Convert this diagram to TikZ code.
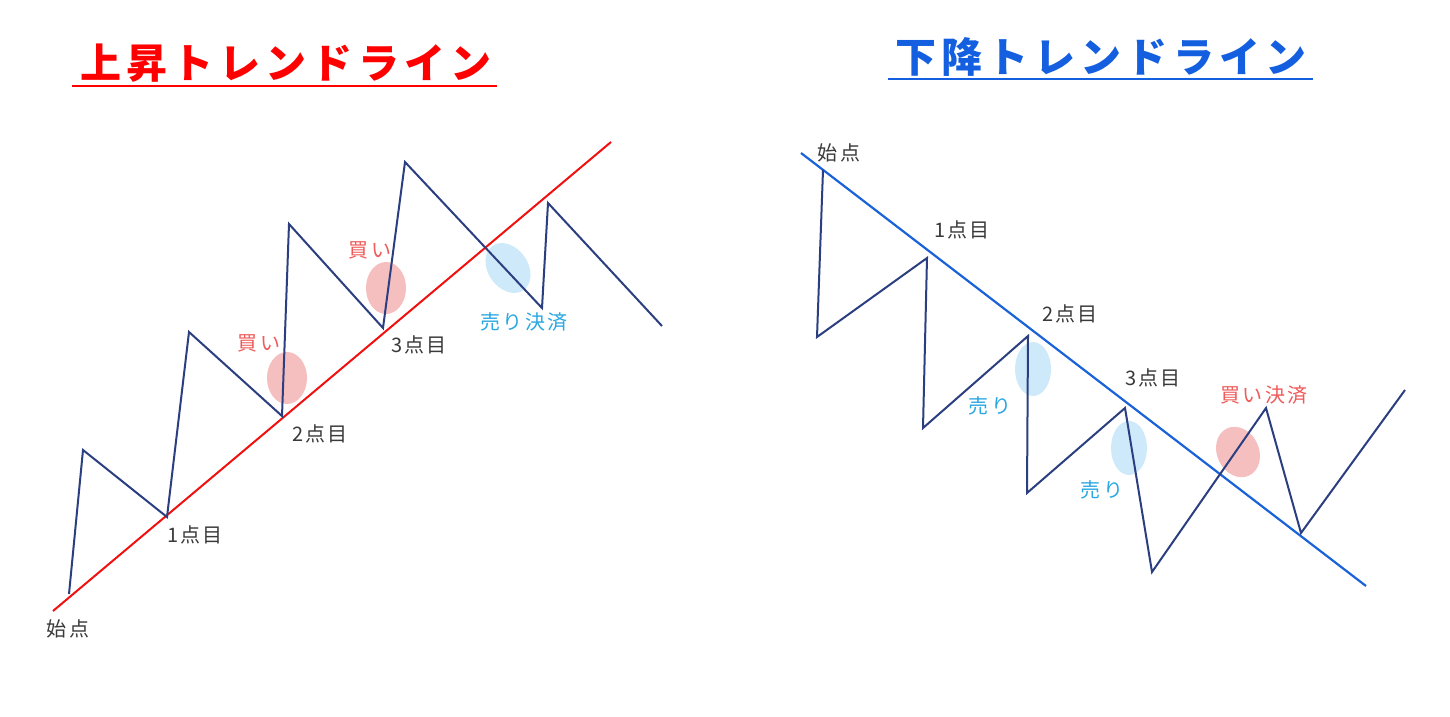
\documentclass[tikz,border=0pt]{standalone}
\usepackage{fontspec}
\newfontfamily\cjk[LetterSpace=12]{Noto Sans CJK JP}
\newfontfamily\cjkt[LetterSpace=13]{Noto Sans CJK JP}
\usetikzlibrary{shapes.geometric}
\definecolor{navy}{HTML}{2B3F80}
\definecolor{trendred}{HTML}{F01010}
\definecolor{trendblue}{HTML}{1A62DA}
\definecolor{titlered}{HTML}{FF0000}
\definecolor{titleblue}{HTML}{135FE0}
\definecolor{lblred}{HTML}{F05A5A}
\definecolor{lblblue}{HTML}{2AA8E2}
\definecolor{lblgray}{HTML}{3A3A3A}
\definecolor{ellred}{HTML}{F4B4B4}
\definecolor{ellblue}{HTML}{C6E6F8}
\tikzset{
  zig/.style={draw=navy, line width=2pt, line join=miter},
  titletext/.style={font=\cjkt\bfseries\fontsize{41}{41}\selectfont, inner sep=0pt},
  lbl/.style={font=\cjk\fontsize{20}{20}\selectfont, text=lblgray, inner sep=0pt},
  lblr/.style={lbl, text=lblred},
  lblb/.style={lbl, text=lblblue},
  ellr/.style={ellipse, fill=ellred, fill opacity=0.85, draw=none},
  ellb/.style={ellipse, fill=ellblue, fill opacity=0.85, draw=none},
}
\begin{document}
\begin{tikzpicture}[x=1pt,y=-1pt]
\useasboundingbox[fill=white] (0,0) rectangle (1450,716);
% ---------- titles ----------
\node[titletext, text=titlered] (t1) at (286,63) {上昇トレンドライン};
\coordinate (u1a) at (72,86); \coordinate (u1b) at (497,86);
\draw[titlered, line width=2.6pt] (u1a) -- (u1b);
\node[titletext, text=titleblue] (t2) at (1101,57) {下降トレンドライン};
\coordinate (u2a) at (888,79); \coordinate (u2b) at (1313,79);
\draw[titleblue, line width=2.6pt] (u2a) -- (u2b);
% ---------- left panel ----------
\node[ellr, minimum width=40pt, minimum height=52pt] (e1) at (287,378) {};
\node[ellr, minimum width=40pt, minimum height=52pt] (e2) at (386,288) {};
\node[ellb, minimum width=40pt, minimum height=54pt, rotate=35] (e3) at (508,268) {};
\coordinate (r0) at (53,611); \coordinate (r1) at (611,142);
\draw[trendred, line width=2pt] (r0) -- (r1);
\coordinate (p0) at (69,594);
\coordinate (p1) at (83,450);
\coordinate (p2) at (167,517);
\coordinate (p3) at (189,332);
\coordinate (p4) at (282,416);
\coordinate (p5) at (289,224);
\coordinate (p6) at (383,328);
\coordinate (p7) at (405,162);
\coordinate (p8) at (542,308);
\coordinate (p9) at (548,203);
\coordinate (p10) at (662,326);
\draw[zig] (p0)--(p1)--(p2)--(p3)--(p4)--(p5)--(p6)--(p7)--(p8)--(p9)--(p10);
\node[lbl] (l0) at (68,629) {始点};
\node[lbl] (l1) at (195,535) {1点目};
\node[lbl] (l2) at (320,434) {2点目};
\node[lbl] (l3) at (419,345) {3点目};
\node[lblr] (b1) at (259,343) {買い};
\node[lblr] (b2) at (370,250) {買い};
\node[lblb] (s1) at (524,322) {売り決済};
% ---------- right panel ----------
\node[ellb, minimum width=36pt, minimum height=54pt] (e4) at (1033,369) {};
\node[ellb, minimum width=36pt, minimum height=54pt] (e5) at (1129,448) {};
\node[ellr, minimum width=42pt, minimum height=52pt, rotate=25] (e6) at (1238,452) {};
\coordinate (d0) at (801,153); \coordinate (d1) at (1366,586);
\draw[trendblue, line width=2.2pt] (d0) -- (d1);
\coordinate (q0) at (823,170);
\coordinate (q1) at (817,337);
\coordinate (q2) at (927,258);
\coordinate (q3) at (923,428);
\coordinate (q4) at (1028,336);
\coordinate (q5) at (1027,493);
\coordinate (q6) at (1125,408);
\coordinate (q7) at (1152,572);
\coordinate (q8) at (1266,408);
\coordinate (q9) at (1301,533);
\coordinate (q10) at (1405,390);
\draw[zig] (q0)--(q1)--(q2)--(q3)--(q4)--(q5)--(q6)--(q7)--(q8)--(q9)--(q10);
\node[lbl] (m0) at (839,153) {始点};
\node[lbl] (m1) at (962,230) {1点目};
\node[lbl] (m2) at (1070,314) {2点目};
\node[lbl] (m3) at (1153,378) {3点目};
\node[lblb] (s2) at (990,406) {売り};
\node[lblb] (s3) at (1102,490) {売り};
\node[lblr] (b3) at (1264,395) {買い決済};
\end{tikzpicture}
\end{document}
